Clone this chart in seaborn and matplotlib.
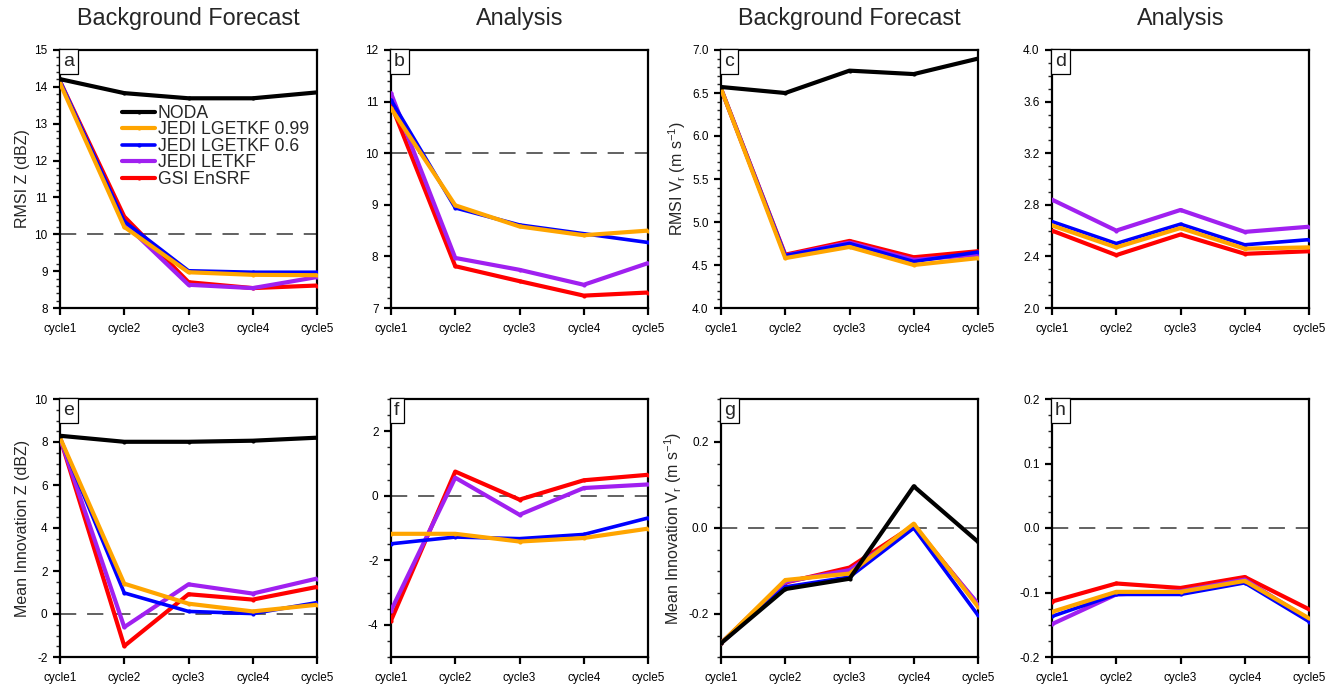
import matplotlib
matplotlib.use("Agg")
import matplotlib.pyplot as plt
import seaborn as sns
import pandas as pd
from matplotlib.ticker import MultipleLocator

sns.set_style("white")
plt.rcParams['font.family'] = ['Liberation Sans', 'DejaVu Sans']
plt.rcParams['mathtext.fontset'] = 'custom'
plt.rcParams['mathtext.rm'] = 'Liberation Sans'
plt.rcParams['mathtext.it'] = 'Liberation Sans:italic'

cycles = ["cycle1", "cycle2", "cycle3", "cycle4", "cycle5"]
series_names = ["NODA", "JEDI LGETKF 0.99", "JEDI LGETKF 0.6", "JEDI LETKF", "GSI EnSRF"]
series_colors = ["#000000", "#FFA500", "#0000FF", "#A020F0", "#FF0000"]

# panel a: RMSI Z background forecast
a_noda = [14.21, 13.83, 13.69, 13.69, 13.85]
a_lg099 = [14.10, 10.20, 8.97, 8.90, 8.89]
a_lg06 = [14.15, 10.35, 9.01, 8.97, 8.97]
a_letkf = [14.15, 10.30, 8.63, 8.54, 8.84]
a_gsi = [14.15, 10.48, 8.70, 8.54, 8.61]
# panel b: RMSI Z analysis
b_lg099 = [10.87, 8.99, 8.58, 8.41, 8.50]
b_lg06 = [11.03, 8.94, 8.61, 8.44, 8.27]
b_letkf = [11.16, 7.97, 7.74, 7.45, 7.87]
b_gsi = [10.95, 7.81, 7.52, 7.24, 7.30]
# panel c: RMSI Vr background forecast
c_noda = [6.57, 6.50, 6.76, 6.72, 6.90]
c_lg099 = [6.55, 4.58, 4.71, 4.50, 4.58]
c_lg06 = [6.55, 4.61, 4.75, 4.54, 4.65]
c_letkf = [6.55, 4.61, 4.76, 4.56, 4.62]
c_gsi = [6.55, 4.62, 4.78, 4.59, 4.66]
# panel d: RMSI Vr analysis
d_lg099 = [2.64, 2.47, 2.62, 2.46, 2.47]
d_lg06 = [2.67, 2.50, 2.65, 2.49, 2.53]
d_letkf = [2.84, 2.60, 2.76, 2.59, 2.63]
d_gsi = [2.60, 2.41, 2.57, 2.42, 2.44]
# panel e: mean innovation Z background forecast
e_noda = [8.29, 8.01, 8.01, 8.06, 8.20]
e_lg099 = [8.20, 1.41, 0.48, 0.12, 0.43]
e_lg06 = [8.20, 0.98, 0.12, 0.02, 0.53]
e_letkf = [8.20, -0.61, 1.38, 0.95, 1.65]
e_gsi = [8.20, -1.49, 0.92, 0.67, 1.26]
# panel f: mean innovation Z analysis
f_lg099 = [-1.18, -1.18, -1.42, -1.31, -1.02]
f_lg06 = [-1.49, -1.28, -1.33, -1.20, -0.69]
f_letkf = [-3.56, 0.56, -0.59, 0.24, 0.35]
f_gsi = [-3.87, 0.75, -0.12, 0.48, 0.65]
# panel g: mean innovation Vr background forecast
g_noda = [-0.268, -0.142, -0.118, 0.097, -0.032]
g_lg099 = [-0.268, -0.121, -0.106, 0.010, -0.183]
g_lg06 = [-0.268, -0.137, -0.114, 0.000, -0.203]
g_letkf = [-0.268, -0.125, -0.098, 0.002, -0.176]
g_gsi = [-0.268, -0.127, -0.092, 0.006, -0.178]
# panel h: mean innovation Vr analysis
h_lg099 = [-0.130, -0.099, -0.099, -0.082, -0.140]
h_lg06 = [-0.137, -0.103, -0.103, -0.085, -0.145]
h_letkf = [-0.149, -0.103, -0.098, -0.080, -0.142]
h_gsi = [-0.114, -0.086, -0.093, -0.076, -0.126]

panels = [
    dict(tag="a", data=[a_noda, a_lg099, a_lg06, a_letkf, a_gsi], ylim=(8, 15), major=1, minor=0.2,
         fmt="%d", ylabel="RMSI Z (dBZ)", ref=10, title="Background Forecast"),
    dict(tag="b", data=[None, b_lg099, b_lg06, b_letkf, b_gsi], ylim=(7, 12), major=1, minor=0.2,
         fmt="%d", ylabel=None, ref=10, title="Analysis"),
    dict(tag="c", data=[c_noda, c_lg099, c_lg06, c_letkf, c_gsi], ylim=(4.0, 7.0), major=0.5, minor=0.1,
         fmt="%.1f", ylabel="RMSI V$_\\mathregular{r}$ (m s$^{\\mathregular{-1}}$)", ref=None, title="Background Forecast"),
    dict(tag="d", data=[None, d_lg099, d_lg06, d_letkf, d_gsi], ylim=(2.0, 4.0), major=0.4, minor=0.1,
         fmt="%.1f", ylabel=None, ref=None, title="Analysis"),
    dict(tag="e", data=[e_noda, e_lg099, e_lg06, e_letkf, e_gsi], ylim=(-2, 10), major=2, minor=0.5,
         fmt="%d", ylabel="Mean Innovation Z (dBZ)", ref=0, title=None),
    dict(tag="f", data=[None, f_lg099, f_lg06, f_letkf, f_gsi], ylim=(-5, 3), major=2, minor=0.5,
         fmt="%d", ylabel=None, ref=0, title=None),
    dict(tag="g", data=[g_noda, g_lg099, g_lg06, g_letkf, g_gsi], ylim=(-0.3, 0.3), major=0.2, minor=0.05,
         fmt="%.1f", ylabel="Mean Innovation V$_\\mathregular{r}$ (m s$^{\\mathregular{-1}}$)", ref=0, title=None),
    dict(tag="h", data=[None, h_lg099, h_lg06, h_letkf, h_gsi], ylim=(-0.2, 0.2), major=0.1, minor=0.025,
         fmt="%.1f", ylabel=None, ref=0, title=None),
]

W, H = 1338, 686
fig = plt.figure(figsize=(W / 100, H / 100), dpi=100)
lefts = [60, 391, 721, 1052]
tops = [50, 399]
aw, ah = 257, 258

draw_order = [4, 3, 2, 1, 0]
widths = {0: 3.0, 1: 3.0, 2: 2.6, 3: 3.0, 4: 3.0}

for i, p in enumerate(panels):
    row, col = divmod(i, 4)
    l = lefts[col]
    t = tops[row]
    ax = fig.add_axes([l / W, (H - t - ah) / H, aw / W, ah / H])
    if p["ref"] is not None:
        ax.axhline(p["ref"], color="#555555", lw=1.3, dashes=(9, 6), zorder=1)
    for k in draw_order:
        vals = p["data"][k]
        if vals is None:
            continue
        df = pd.DataFrame({"cycle": cycles, "value": vals})
        sns.lineplot(data=df, x="cycle", y="value", ax=ax, color=series_colors[k],
                     lw=widths[k], marker="o", markersize=3, markeredgewidth=0,
                     label=series_names[k] if p["tag"] == "a" else None,
                     legend=False, zorder=3 + (5 - k), sort=False)
    ax.set_xlim(0, 4)
    ax.set_ylim(*p["ylim"])
    ax.yaxis.set_major_locator(MultipleLocator(p["major"]))
    ax.yaxis.set_minor_locator(MultipleLocator(p["minor"]))
    ax.yaxis.set_major_formatter(matplotlib.ticker.FormatStrFormatter(p["fmt"]))
    ax.set_xticks(range(5))
    ax.set_xticklabels(cycles)
    ax.set_xlabel("")
    ax.set_ylabel(p["ylabel"] if p["ylabel"] else "", fontsize=11.5, labelpad=3)
    for s in ax.spines.values():
        s.set_linewidth(1.6)
        s.set_color("black")
    ax.tick_params(axis="both", which="major", direction="out", length=5, width=1.6,
                   labelsize=8.5, pad=4, left=True, bottom=True, colors="black")
    ax.tick_params(axis="y", which="minor", direction="out", length=3, width=1.0, left=True)
    ax.tick_params(axis="x", which="major", pad=6)
    ax.text(0.012, 0.988, p["tag"], transform=ax.transAxes, ha="left", va="top", fontsize=14,
            bbox=dict(boxstyle="square,pad=0.22", fc="white", ec="black", lw=0.9), zorder=10)
    if p["title"]:
        fig.text((l + aw / 2) / W, 1 - 18 / H, p["title"], ha="center", va="center", fontsize=16.8)
    if p["tag"] == "a":
        handles, labels = ax.get_legend_handles_labels()
        order = [labels.index(n) for n in series_names]
        ax.legend([handles[j] for j in order], [labels[j] for j in order],
                  loc="upper left", bbox_to_anchor=(0.241, 0.787), frameon=False,
                  fontsize=12.7, handlelength=1.9, handletextpad=0.12, labelspacing=-0.03,
                  borderpad=0, borderaxespad=0)

fig.savefig("out.png", dpi=100)
